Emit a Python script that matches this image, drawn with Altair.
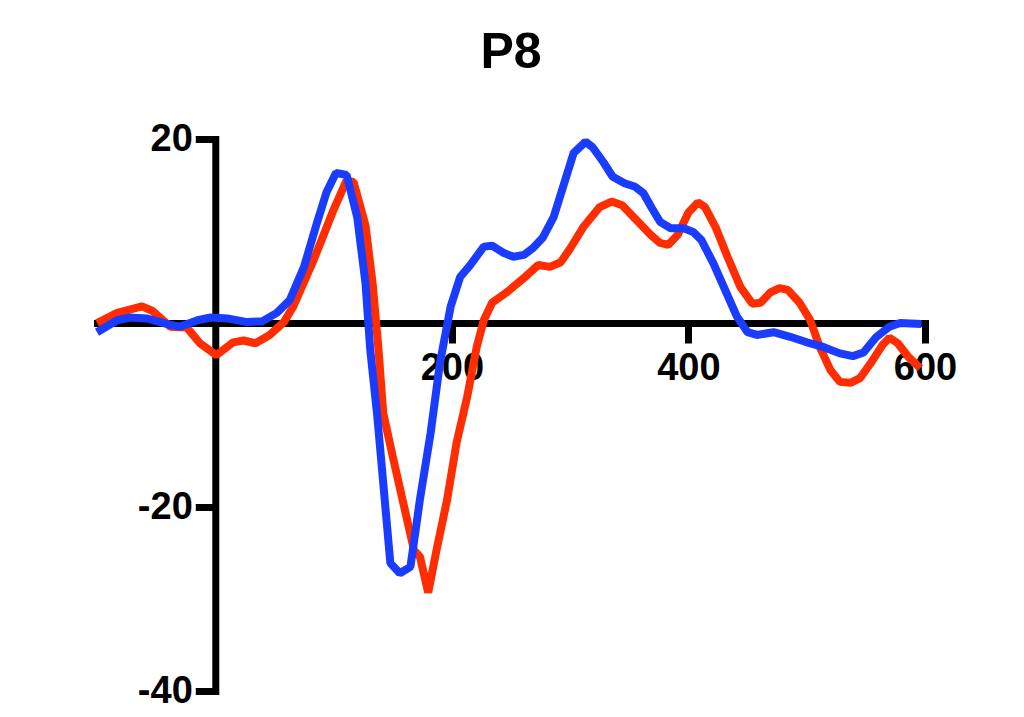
import altair as alt
import pandas as pd

# Red condition (time in ms, amplitude)
red_t = [-100, -83, -62, -53, -38, -24, -13, 1, 15, 24, 34, 46, 58, 66, 83, 100, 111, 117,
         127, 133, 138, 142, 150, 159, 168, 173, 180, 187, 196, 204, 213, 221, 227, 234,
         247, 261, 273, 283, 292, 300, 311, 325, 335, 344, 356, 368, 376, 383, 391, 400,
         408, 414, 423, 433, 444, 454, 461, 469, 477, 484, 494, 503, 511, 520, 528, 537,
         545, 555, 564, 570, 577, 586, 596]
red_v = [0.0, 1.1, 1.8, 1.3, -0.4, -0.5, -2.2, -3.5, -2.1, -1.9, -2.2, -1.3, 0.1, 1.8, 6.8,
         12.3, 15.5, 15.3, 10.6, 4.3, -2.9, -9.8, -14.5, -19.6, -24.7, -25.4, -29.3, -24.7,
         -19.2, -13.0, -8.0, -2.6, 0.3, 2.2, 3.4, 4.9, 6.3, 6.1, 6.6, 8.1, 10.4, 12.6, 13.2,
         12.8, 11.2, 9.6, 8.7, 8.5, 9.6, 12.0, 13.1, 12.6, 10.4, 7.2, 3.9, 2.1, 2.2, 3.3,
         3.8, 3.6, 2.2, 0.3, -2.6, -5.1, -6.4, -6.5, -6.0, -4.2, -2.4, -1.6, -2.2, -3.7, -4.9]

# Blue condition
blue_t = [-100, -83, -72, -58, -38, -30, -15, -4, 10, 27, 40, 52, 63, 75, 86, 94, 102, 111,
          120, 127, 131, 137, 142, 148, 156, 165, 173, 182, 190, 199, 207, 215, 227, 234,
          244, 252, 261, 269, 277, 286, 294, 303, 313, 319, 328, 336, 346, 355, 362, 369,
          376, 385, 396, 404, 411, 421, 431, 441, 450, 458, 472, 486, 500, 514, 528, 539,
          548, 559, 570, 579, 597]
blue_v = [-1.0, 0.3, 0.6, 0.5, -0.2, -0.4, 0.3, 0.6, 0.5, 0.1, 0.2, 1.1, 2.5, 6.1, 10.9,
          14.2, 16.3, 16.1, 11.5, 4.3, -2.9, -10.2, -17.4, -26.1, -27.2, -26.5, -19.2, -12.0,
          -4.3, 1.8, 5.0, 6.2, 8.3, 8.4, 7.6, 7.2, 7.4, 8.2, 9.3, 11.5, 14.8, 18.5, 19.7,
          19.1, 17.5, 15.9, 15.2, 14.8, 14.1, 12.5, 11.0, 10.3, 10.3, 9.9, 9.0, 6.5, 3.6,
          0.7, -1.0, -1.3, -1.0, -1.5, -2.1, -2.6, -3.3, -3.6, -3.2, -1.5, -0.4, 0.0, -0.1]

x_ticks = [200, 400, 600]
y_ticks = [-40, -20, 20]

W, H = 828, 552
X_MIN, X_MAX = -100, 600
Y_MIN, Y_MAX = -40, 20

red_df = pd.DataFrame({"t": red_t, "v": red_v})
blue_df = pd.DataFrame({"t": blue_t, "v": blue_v})

FONT = "Liberation Sans"

common_axis = dict(title=None, grid=False, domainColor="black", domainWidth=7,
                   domainCap="square", tickColor="black", tickWidth=7, tickSize=20,
                   labelFont=FONT, labelFontWeight="bold", labelFontSize=38,
                   labelColor="black", labelFlush=False, labelOverlap=False,
                   labelExpr="datum.value + ''")

x_enc = alt.X("t:Q",
              scale=alt.Scale(domain=[X_MIN, X_MAX], nice=False, zero=False),
              axis=alt.Axis(values=x_ticks, orient="bottom",
                            offset=-H * (0 - Y_MIN) / (Y_MAX - Y_MIN),
                            labelPadding=6, **common_axis))
y_enc = alt.Y("v:Q",
              scale=alt.Scale(domain=[Y_MIN, Y_MAX], nice=False, zero=False),
              axis=alt.Axis(values=y_ticks, orient="left",
                            offset=-W * (0 - X_MIN) / (X_MAX - X_MIN),
                            labelPadding=3, **common_axis))

red = alt.Chart(red_df).mark_line(color="#ff2d00", strokeWidth=8, strokeJoin="bevel").encode(x=x_enc, y=y_enc)
blue = alt.Chart(blue_df).mark_line(color="#1a3cff", strokeWidth=8, strokeJoin="bevel").encode(x=x_enc, y=y_enc)

chart = alt.layer(red, blue).properties(
    width=W, height=H,
    title=alt.TitleParams("P8", font=FONT, fontSize=50, fontWeight="bold", color="black",
                          anchor="middle", frame="group", baseline="alphabetic", offset=2),
    autosize=alt.AutoSizeParams(type="none"),
    padding={"left": 89, "top": 131, "right": 70, "bottom": 22},
).configure(background="white").configure_view(stroke=None)

chart.save("out.html", embed_options={"renderer": "svg", "actions": False})
